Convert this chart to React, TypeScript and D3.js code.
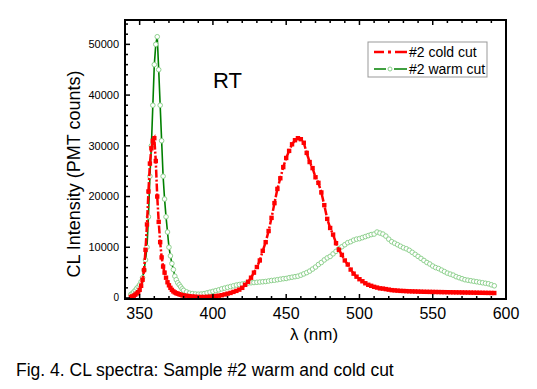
import React from 'react';
import * as d3 from 'd3';

// wavelengths (nm): 1 nm steps over the UV peak, 2 nm afterwards
const uvWl = [344, 345, 346, 347, 348, 349, 350, 351, 352, 353, 354, 355, 356, 357, 358, 359, 360, 361, 362, 363, 364, 365, 366, 367, 368, 369, 370, 371, 372, 373, 374, 375, 376, 377, 378, 379];
const visWl = [380, 382, 384, 386, 388, 390, 392, 394, 396, 398, 400, 402, 404, 406, 408, 410, 412, 414, 416, 418, 420, 422, 424, 426, 428, 430, 432, 434, 436, 438, 440, 442, 444, 446, 448, 450, 452, 454, 456, 458, 460, 462, 464, 466, 468, 470, 472, 474, 476, 478, 480, 482, 484, 486, 488, 490, 492, 494, 496, 498, 500, 502, 504, 506, 508, 510, 512, 514, 516, 518, 520, 522, 524, 526, 528, 530, 532, 534, 536, 538, 540, 542, 544, 546, 548, 550, 552, 554, 556, 558, 560, 562, 564, 566, 568, 570, 572, 574, 576, 578, 580, 582, 584, 586, 588, 590, 592];
const wavelengths = [...uvWl, ...visWl];

// #2 cold cut (PMT counts)
const coldCut = [
  200, 300, 450, 650, 900, 1150, 1600, 2400, 3600, 5500, 9500, 14500, 21000, 26500, 29500, 31000, 31500, 27000, 20000, 15000,
  11000, 8000, 6200, 5000, 4000, 3100, 2500, 2000, 1600, 1300, 1100, 950, 850, 750, 650, 550,
  500, 450, 350, 300, 250, 200, 200, 200, 220, 250, 300, 380, 450, 550, 700, 850, 1000, 1200, 1400, 1650,
  2000, 2600, 3200, 4000, 5000, 6100, 7400, 9300, 11000, 13200, 15800, 18700, 21500, 23600, 25800, 27600, 29000, 30300, 31100, 31500,
  31300, 30600, 28600, 26800, 25600, 23800, 22700, 20800, 18300, 15600, 13800, 12500, 10800, 9500, 8500, 7400, 6600, 5600, 4800, 4200,
  3700, 3300, 2900, 2600, 2400, 2200, 2050, 1900, 1850, 1750, 1650, 1550, 1500, 1450, 1400, 1380, 1350, 1320, 1300, 1280,
  1260, 1240, 1220, 1210, 1200, 1190, 1180, 1170, 1160, 1150, 1140, 1130, 1120, 1110, 1100, 1090, 1080, 1070, 1060, 1050,
  1040, 1030, 1020, 1010, 1000, 990, 980,
];

// #2 warm cut (PMT counts)
const warmCut = [
  700, 900, 1200, 1500, 1900, 2200, 2600, 3200, 4000, 5500, 7500, 10000, 16000, 24000, 30000, 38000, 46000, 50000, 51500, 45000,
  38000, 31000, 24000, 19500, 16000, 13000, 10000, 8300, 6800, 5600, 4300, 3600, 3000, 2600, 2200, 1800,
  1500, 1200, 950, 850, 780, 750, 780, 850, 1000, 1150, 1300, 1450, 1600, 1800, 1950, 2100, 2250, 2400, 2550, 2650,
  2750, 2850, 2950, 3000, 3050, 3100, 3150, 3200, 3250, 3350, 3450, 3500, 3600, 3700, 3800, 3850, 4000, 4100, 4200, 4300,
  4500, 4750, 5000, 5300, 5700, 6100, 6600, 7000, 7500, 7900, 8200, 8700, 9200, 9700, 10100, 10500, 10900, 11100, 11400, 11600,
  11700, 11900, 12100, 12300, 12500, 12600, 13000, 12800, 12600, 12200, 11600, 11100, 10800, 10500, 10200, 9900, 9700, 9400, 9000, 8600,
  8200, 7800, 7400, 7000, 6700, 6300, 6000, 5800, 5500, 5200, 4900, 4700, 4500, 4200, 4000, 3800, 3600, 3500, 3400, 3300,
  3200, 3100, 3000, 2900, 2800, 2600, 2400,
];

const xMajor = [350, 400, 450, 500, 550, 600];
const yMajor = [0, 10000, 20000, 30000, 40000, 50000];
const seriesNames = ['#2 cold cut', '#2 warm cut'];

const font = 'Arial, "Liberation Sans", sans-serif';

const App: React.FC = () => {
  const left = 125, right = 506, top = 20, bottom = 299;

  const x = d3.scaleLinear().domain([340, 600]).range([left, right]);
  const y = d3.scaleLinear().domain([-200, 54800]).range([bottom, top]);

  const xMinor = d3.range(350, 600, 10).filter(v => v % 50 !== 0);
  const yMinor = d3.range(2000, 54001, 2000).filter(v => v % 10000 !== 0);

  const line = d3.line<number>()
    .x((_, i) => x(wavelengths[i]))
    .y(d => y(d));

  const red = '#ff0000';
  const green = '#008000';
  const circ = '#8fd18f';

  return (
    <svg width={537} height={389} style={{ position: 'absolute', left: 0, top: 0, background: '#fff' }} fontFamily={font}>
      {/* warm cut: line + open circles */}
      <path d={line(warmCut) || ''} fill="none" stroke={green} strokeWidth={1.6} />
      {warmCut.map((v, i) => (
        <circle key={'w' + i} cx={x(wavelengths[i])} cy={y(v)} r={2.3} fill="#fff" stroke={circ} strokeWidth={1} />
      ))}
      {/* cold cut: dash-dot red with square markers */}
      <path d={line(coldCut) || ''} fill="none" stroke={red} strokeWidth={2.5} strokeDasharray="8,2,2,2" />
      {coldCut.map((v, i) => (
        <rect key={'c' + i} x={x(wavelengths[i]) - 2.2} y={y(v) - 2.2} width={4.4} height={4.4} fill={red} />
      ))}

      {/* frame */}
      <rect x={left} y={top} width={right - left} height={bottom - top} fill="none" stroke="#000" strokeWidth={2} />

      {/* x ticks bottom and top, pointing inward */}
      {xMajor.map(v => (
        <g key={'xm' + v}>
          <line x1={x(v)} x2={x(v)} y1={bottom} y2={bottom - 5} stroke="#000" strokeWidth={1.5} />
          <line x1={x(v)} x2={x(v)} y1={top} y2={top + 5} stroke="#000" strokeWidth={1.5} />
          <text x={x(v)} y={319} fontSize={16} textAnchor="middle">{v}</text>
        </g>
      ))}
      {xMinor.map(v => (
        <g key={'xn' + v}>
          <line x1={x(v)} x2={x(v)} y1={bottom} y2={bottom - 3} stroke="#000" strokeWidth={1.5} />
          <line x1={x(v)} x2={x(v)} y1={top} y2={top + 3} stroke="#000" strokeWidth={1.5} />
        </g>
      ))}

      {/* y ticks */}
      {yMajor.map(v => (
        <g key={'ym' + v}>
          <line x1={left} x2={left + 5} y1={y(v)} y2={y(v)} stroke="#000" strokeWidth={1.5} />
          <text x={119} y={y(v)} dy="0.35em" fontSize={v === 0 ? 10 : 11} textAnchor="end">{v}</text>
        </g>
      ))}
      {yMinor.map(v => (
        <line key={'yn' + v} x1={left} x2={left + 3} y1={y(v)} y2={y(v)} stroke="#000" strokeWidth={1.5} />
      ))}

      {/* axis titles */}
      <text x={314} y={340} fontSize={17} textAnchor="middle">λ (nm)</text>
      <text transform="translate(80,174) rotate(-90)" fontSize={18} textAnchor="middle">CL Intensity (PMT counts)</text>
      <text x={213} y={88} fontSize={22} textAnchor="start">RT</text>

      {/* legend */}
      <g>
        <rect x={368} y={42} width={119} height={35} fill="#fff" stroke="#999" strokeWidth={1} />
        <line x1={374} x2={384} y1={52} y2={52} stroke={red} strokeWidth={2.5} />
        <rect x={388} y={50.5} width={3} height={3} fill={red} />
        <line x1={395} x2={407} y1={52} y2={52} stroke={red} strokeWidth={2.5} />
        <text x={409} y={57} fontSize={14}>{seriesNames[0]}</text>
        <line x1={374} x2={386} y1={69} y2={69} stroke={green} strokeWidth={1.5} />
        <circle cx={390} cy={69} r={2} fill="#fff" stroke={circ} strokeWidth={1} />
        <line x1={394} x2={407} y1={69} y2={69} stroke={green} strokeWidth={1.5} />
        <text x={409} y={74} fontSize={14}>{seriesNames[1]}</text>
      </g>

      {/* caption */}
      <text x={16} y={376} fontSize={17.5}>Fig. 4. CL spectra: Sample #2 warm and cold cut</text>
    </svg>
  );
};

export default App;
